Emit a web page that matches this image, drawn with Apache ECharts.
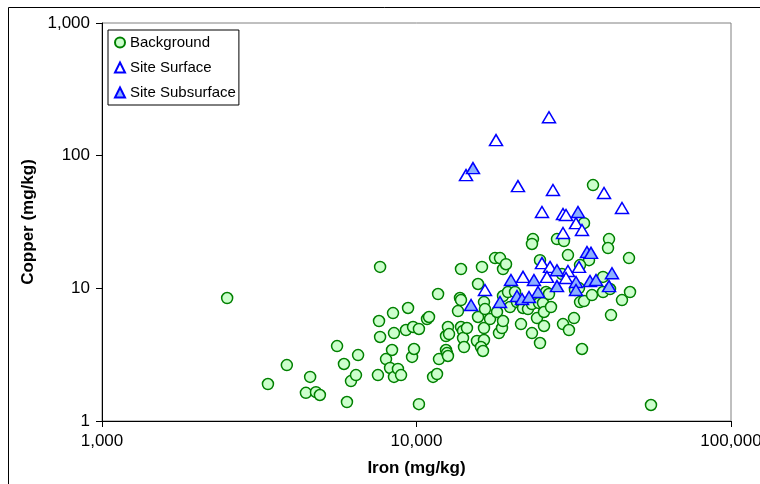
<!DOCTYPE html>
<html>
<head>
<meta charset="utf-8">
<title>Copper vs Iron</title>
<script src="https://cdn.jsdelivr.net/npm/echarts@6/dist/echarts.min.js"></script>
<style>
  html, body { margin: 0; padding: 0; background: #ffffff; }
  #chart { width: 760px; height: 484px; }
</style>
</head>
<body>
<div id="chart"></div>
<script>
// Sample concentrations as [iron mg/kg, copper mg/kg]
const backgroundPoints = [
  [2500,8.45],[3370,1.90],[3870,2.64],[4450,1.63],[4590,2.15],[4790,1.65],[4930,1.57],[5590,3.67],[5880,2.69],[6010,1.39],
  [6190,2.00],[6420,2.22],[6520,3.14],[7540,2.22],[7660,14.5],[7660,4.30],[7600,5.67],[8000,2.93],[8240,2.51],[8360,3.43],
  [8420,6.51],[8480,4.60],[8480,2.15],[8730,2.47],[8930,2.22],[9260,4.85],[9400,7.11],[9680,3.04],[9750,5.11],[9820,3.49],
  [10180,4.94],[10180,1.34],[10800,5.87],[10960,6.08],[11290,2.15],[11620,2.26],[11710,9.06],[11790,2.93],[12410,3.43],[12500,3.25],
  [12410,4.37],[12590,5.11],[12690,4.52],[12590,3.09],[13550,6.74],[13750,8.45],[13850,8.16],[13850,5.11],[13850,13.98],[14060,4.77],
  [14060,4.22],[14160,3.61],[14470,5.02],[15690,10.78],[15570,4.01],[15690,6.08],[16150,14.5],[16390,7.88],[16510,6.98],[16390,4.08],
  [16390,5.02],[16030,3.61],[16270,3.37],[17130,5.87],[17770,16.9],[18430,16.9],[18840,13.98],[19260,15.2],[18030,6.63],[18290,4.60],
  [18700,5.02],[18840,5.67],[18840,8.75],[19540,9.38],[20570,9.38],[19830,7.23],[20870,7.88],[21490,5.38],[21490,7.88],[21810,7.11],
  [22620,6.98],[23290,7.61],[23290,4.60],[23460,23.5],[23290,21.6],[24160,5.97],[24700,3.87],[24700,16.3],[24520,7.75],[25250,7.75],
  [25430,6.63],[25430,5.20],[25810,9.38],[26380,9.06],[26770,7.23],[27970,23.5],[29440,22.7],[29230,5.38],[30310,17.8],[30530,4.85],
  [31680,5.97],[31910,9.71],[32860,10.05],[33110,7.88],[33590,3.49],[34090,31.0],[34090,8.02],[35360,16.3],[36140,8.90],[36410,60.0],
  [39180,9.38],[39180,12.2],[40940,23.5],[40640,20.1],[41240,9.88],[41540,6.29],[45020,8.16],[47390,16.9],[47740,9.38],[55670,1.32],
  [33110,14.98],[29010,12.8]
];

const surfacePoints = [
  [26380,195],[17900,131],[14370,71.4],[21020,59.0],[27160,55.1],[39470,52.3],[45020,40.3],[25060,37.6],[29230,36.3],[29880,35.7],
  [32150,31.0],[33590,27.5],[29230,26.1],[25060,15.5],[26580,14.5],[30310,13.5],[32860,14.5],[21810,12.2],[25990,12.2],[29880,11.96],
  [16510,9.71]
];

const subsurfacePoints = [
  [15120,80.6],[32620,37.6],[34840,18.8],[35880,18.5],[27970,13.7],[41840,13.0],[23630,11.55],[32150,11.16],[35620,11.35],[37220,11.55],
  [27970,10.4],[24340,9.38],[20870,8.75],[21650,8.31],[22790,8.60],[18430,7.88],[14910,7.48],[32150,9.71],[40940,10.4],[19970,11.55]
];

const seriesNames = ['Background', 'Site Surface', 'Site Subsurface'];

// Axis ticks and their printed labels
const ironTicks = [1000, 10000, 100000];
const ironTickLabels = ['1,000', '10,000', '100,000'];
const copperTicks = [1, 10, 100, 1000];
const copperTickLabels = ['1', '10', '100', '1,000'];

const FONT = "'Liberation Sans', Arial, sans-serif";

function tickLabel(ticks, labels) {
  return function (v) {
    for (let i = 0; i < ticks.length; i++) {
      if (Math.abs(Math.log10(v) - Math.log10(ticks[i])) < 1e-6) return labels[i];
    }
    return '';
  };
}

const chart = echarts.init(document.getElementById('chart'), null, { renderer: 'canvas' });

chart.setOption({
  backgroundColor: '#ffffff',
  animation: false,
  graphic: [{
    type: 'rect',
    silent: true,
    shape: { x: 8.5, y: 7.5, width: 900, height: 600 },
    style: { fill: 'none', stroke: '#000000', lineWidth: 1 },
    z: -10
  }],
  grid: {
    left: 102, top: 23, right: 29, bottom: 63,
    containLabel: false, outerBoundsMode: 'none',
    show: true, borderColor: '#808080', borderWidth: 1, backgroundColor: '#ffffff'
  },
  legend: {
    orient: 'vertical',
    left: 108, top: 30,
    padding: [5, 3, 5, 6],
    itemGap: 10,
    itemWidth: 10, itemHeight: 10,
    backgroundColor: '#ffffff',
    borderColor: '#000000', borderWidth: 1, borderRadius: 0,
    textStyle: { fontFamily: FONT, fontSize: 15, color: '#000000' },
    data: [
      { name: seriesNames[0], icon: 'circle' },
      { name: seriesNames[1], icon: 'triangle' },
      { name: seriesNames[2], icon: 'triangle' }
    ]
  },
  xAxis: {
    type: 'log', logBase: 10, min: 1000, max: 100000,
    name: 'Iron (mg/kg)', nameLocation: 'middle', nameGap: 39,
    nameTextStyle: { fontFamily: FONT, fontSize: 17, fontWeight: 'bold', color: '#000000' },
    axisLine: { show: true, lineStyle: { color: '#000000', width: 1 } },
    axisTick: { show: true, length: 6, lineStyle: { color: '#000000' } },
    minorTick: { show: false },
    splitLine: { show: false },
    axisLabel: {
      margin: 12, fontFamily: FONT, fontSize: 17, color: '#000000',
      formatter: tickLabel(ironTicks, ironTickLabels)
    }
  },
  yAxis: {
    type: 'log', logBase: 10, min: 1, max: 1000,
    name: 'Copper (mg/kg)', nameLocation: 'middle', nameGap: 64,
    nameTextStyle: { fontFamily: FONT, fontSize: 17, fontWeight: 'bold', color: '#000000' },
    axisLine: { show: true, lineStyle: { color: '#000000', width: 1 } },
    axisTick: { show: true, length: 6, lineStyle: { color: '#000000' } },
    minorTick: { show: false },
    splitLine: { show: false },
    axisLabel: {
      margin: 12, fontFamily: FONT, fontSize: 17, color: '#000000',
      formatter: tickLabel(copperTicks, copperTickLabels)
    }
  },
  series: [
    {
      name: seriesNames[0], type: 'scatter', data: backgroundPoints,
      symbol: 'circle', symbolSize: 11,
      itemStyle: { color: '#ccffcc', borderColor: '#008000', borderWidth: 1.5, opacity: 1 },
      z: 2
    },
    {
      name: seriesNames[1], type: 'scatter', data: surfacePoints,
      symbol: 'triangle', symbolSize: [13, 11],
      itemStyle: { color: '#ffffff', borderColor: '#0000ff', borderWidth: 1.5, opacity: 1 },
      z: 3
    },
    {
      name: seriesNames[2], type: 'scatter', data: subsurfacePoints,
      symbol: 'triangle', symbolSize: [13, 11],
      itemStyle: { color: '#8cb0ff', borderColor: '#0000ff', borderWidth: 1.5, opacity: 1 },
      z: 4
    }
  ]
});
</script>
</body>
</html>
